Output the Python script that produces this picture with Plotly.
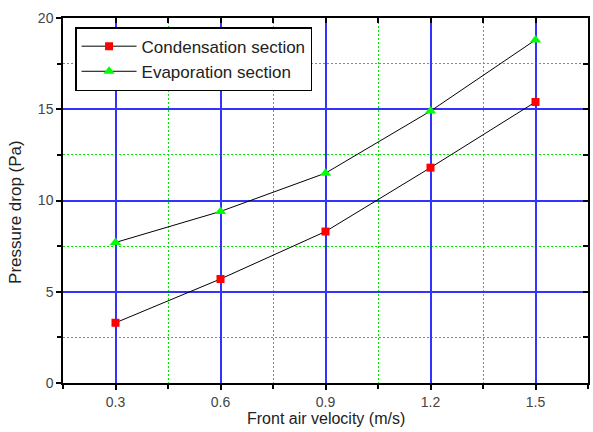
import plotly.graph_objects as go

velocity = [0.3, 0.6, 0.9, 1.2, 1.5]
condensation = [3.3, 5.7, 8.3, 11.8, 15.4]
evaporation = [7.7, 9.4, 11.5, 14.9, 18.8]
x_ticks = [0.3, 0.6, 0.9, 1.2, 1.5]
y_ticks = [0, 5, 10, 15, 20]

fig = go.Figure()
fig.add_trace(go.Scatter(x=velocity, y=condensation, mode="lines+markers",
                         name="Condensation section",
                         line=dict(color="black", width=1),
                         marker=dict(symbol="square", color="red", size=8)))
fig.add_trace(go.Scatter(x=velocity, y=evaporation, mode="lines+markers",
                         name="Evaporation section",
                         line=dict(color="black", width=1),
                         marker=dict(symbol="triangle-up", color="#00ff00", size=10)))
# invisible trace to anchor mirrored inside-tick axes
fig.add_trace(go.Scatter(x=[velocity[0]], y=[condensation[0]], xaxis="x2", yaxis="y2",
                         mode="markers", marker=dict(opacity=0), showlegend=False,
                         hoverinfo="skip"))

font_tick = dict(family="Arial", size=14, color="#444")
minor_x = [0.15 + 0.3 * i for i in range(6)]
minor_y = [2.5, 7.5, 12.5, 17.5]
grid_minor = dict(showgrid=True, gridcolor="#00e600", griddash="2px,2px", gridwidth=1,
                  ticks="outside", ticklen=4, tickcolor="black")
fig.update_layout(
    width=593, height=432,
    margin=dict(l=63, r=5, t=18, b=49, autoexpand=False),
    plot_bgcolor="white", paper_bgcolor="white",
    showlegend=True,
    legend=dict(x=0.023, y=0.975, xanchor="left", yanchor="top",
                bgcolor="white", bordercolor="black", borderwidth=1.5,
                font=dict(family="Arial", size=17, color="#222"),
                tracegroupgap=0, itemwidth=55),
    xaxis=dict(range=[0.15, 1.65], tickvals=x_ticks, ticktext=[str(v) for v in x_ticks],
               showgrid=True, gridcolor="#3333ff", gridwidth=1.5,
               showline=True, linecolor="black", linewidth=1.5,
               ticks="outside", ticklen=5, tickcolor="black", tickwidth=1.5,
               tickfont=font_tick, zeroline=False, automargin=False,
               minor=dict(tickvals=minor_x, **grid_minor)),
    yaxis=dict(range=[0, 20], tickvals=y_ticks,
               showgrid=True, gridcolor="#3333ff", gridwidth=1.5,
               showline=True, linecolor="black", linewidth=1.5,
               ticks="outside", ticklen=5, tickcolor="black", tickwidth=1.5,
               tickfont=font_tick, zeroline=False, automargin=False,
               minor=dict(tickvals=minor_y, **grid_minor)),
    xaxis2=dict(range=[0.15, 1.65], overlaying="x", side="top", anchor="y",
                tickvals=x_ticks + minor_x, showticklabels=False, showgrid=False,
                zeroline=False, automargin=False,
                ticks="inside", ticklen=5, tickcolor="black", tickwidth=1.5,
                showline=True, linecolor="black", linewidth=1.5),
    yaxis2=dict(range=[0, 20], overlaying="y", side="right", anchor="x",
                tickvals=y_ticks + minor_y, showticklabels=False, showgrid=False,
                zeroline=False, automargin=False,
                ticks="inside", ticklen=5, tickcolor="black", tickwidth=1.5,
                showline=True, linecolor="black", linewidth=1.5),
    annotations=[
        dict(text="Front air velocity (m/s)", xref="paper", yref="paper",
             x=0.5, y=-0.068, xanchor="center", yanchor="top", showarrow=False,
             font=dict(family="Arial", size=16, color="#222")),
        dict(text="Pressure drop (Pa)", xref="paper", yref="paper",
             x=-0.092, y=0.468, xanchor="center", yanchor="middle", showarrow=False,
             textangle=-90, font=dict(family="Arial", size=17, color="#222")),
    ],
)
fig.write_html("out.html")
